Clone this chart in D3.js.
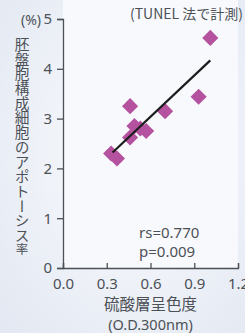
<!DOCTYPE html>
<html>
<head>
<meta charset="utf-8">
<script src="https://cdn.jsdelivr.net/npm/d3@7"></script>
<style>
  html, body { margin: 0; padding: 0; background: #f1f4f9; }
  svg { display: block; font-family: 'Noto Sans CJK JP', 'Noto Sans', sans-serif; }
</style>
</head>
<body>
<div id="chart"></div>
<script>
// data
const odValues = [0.33, 0.37, 0.46, 0.49, 0.53, 0.57, 0.46, 0.70, 0.93, 1.01];
const apoptosisRates = [2.30, 2.20, 2.62, 2.85, 2.80, 2.75, 3.25, 3.15, 3.44, 4.62];
const fitX = [0.34, 1.01];
const fitY = [2.32, 4.17];
const xTicks = [0, 0.3, 0.6, 0.9, 1.2];
const yTicks = [0, 1, 2, 3, 4, 5];
const yTitle = '胚盤胞構成細胞のアポトーシス';
const yTitleLast = '率';
const xTitle = '硫酸層呈色度';
const xUnit = '(O.D.300nm)';
const methodNote = '(TUNEL 法で計測)';
const stats = ['rs=0.770', 'p=0.009'];

const width = 245, height = 333;
const margin = { top: 19, right: 7, bottom: 65, left: 63 };
const textColor = '#4c5157';

const svg = d3.select('#chart').append('svg')
  .attr('width', width)
  .attr('height', height);

const defs = svg.append('defs');
const bg = defs.append('radialGradient').attr('id', 'bg')
  .attr('cx', '55%').attr('cy', '45%').attr('r', '75%');
bg.append('stop').attr('offset', '0%').attr('stop-color', '#fbfcfe');
bg.append('stop').attr('offset', '100%').attr('stop-color', '#e3e8f2');

svg.append('rect')
  .attr('width', width).attr('height', height)
  .attr('fill', 'url(#bg)');

const x = d3.scaleLinear().domain([0, 1.2]).range([margin.left, width - margin.right]);
const y = d3.scaleLinear().domain([0, 5]).range([height - margin.bottom, margin.top]);

// pale plot panel
svg.append('rect')
  .attr('x', x(0)).attr('y', 0)
  .attr('width', x(1.2) - x(0)).attr('height', y(0))
  .attr('fill', '#f8f9fc');

const xAxis = svg.append('g')
  .attr('transform', `translate(0,${y(0)})`)
  .call(d3.axisBottom(x).tickValues(xTicks).tickFormat(d3.format('.1f'))
    .tickSizeInner(-5).tickSizeOuter(-5).tickPadding(12));

const yAxis = svg.append('g')
  .attr('transform', `translate(${x(0)},0)`)
  .call(d3.axisLeft(y).tickValues(yTicks).tickFormat(d3.format('d'))
    .tickSizeInner(6).tickSizeOuter(6).tickPadding(5));

[xAxis, yAxis].forEach(g => {
  g.selectAll('path, line').attr('stroke', textColor).attr('stroke-width', 1.3);
  g.selectAll('text')
    .attr('fill', textColor)
    .attr('font-size', 15)
    .attr('font-family', "'Noto Sans', sans-serif");
});
xAxis.selectAll('text').attr('dy', '0.6em');

const line = d3.line().x(d => x(d[0])).y(d => y(d[1]));
const fitPts = fitX.map((v, i) => [v, fitY[i]]);

// points as diamonds
const pts = odValues.map((v, i) => ({ od: v, rate: apoptosisRates[i] }));
svg.append('g').selectAll('path')
  .data(pts)
  .join('path')
  .attr('transform', d => `translate(${x(d.od)},${y(d.rate)}) rotate(45)`)
  .attr('d', d3.symbol().type(d3.symbolSquare).size(130))
  .attr('fill', '#b4529f');

// regression line on top of the points
svg.append('path')
  .attr('d', line(fitPts))
  .attr('fill', 'none')
  .attr('stroke', '#1c1c1c')
  .attr('stroke-width', 2.2);

// stats text
svg.append('g').selectAll('text')
  .data(stats)
  .join('text')
  .attr('x', 139)
  .attr('y', (d, i) => 238 + i * 19)
  .attr('font-size', 15)
  .attr('font-family', "'Noto Sans', sans-serif")
  .attr('fill', textColor)
  .text(d => d);

// top labels
svg.append('text')
  .attr('x', 243).attr('y', 19)
  .attr('text-anchor', 'end')
  .attr('font-size', 14)
  .attr('fill', textColor)
  .text(methodNote);

svg.append('text')
  .attr('x', 41).attr('y', 25)
  .attr('text-anchor', 'end')
  .attr('font-size', 14)
  .attr('font-family', "'Noto Sans', sans-serif")
  .attr('fill', textColor)
  .text('(%)');

// vertical y title
const yt = svg.append('text')
  .attr('x', 22).attr('y', 37)
  .style('writing-mode', 'vertical-rl')
  .attr('font-size', 14.7)
  .attr('fill', textColor);
yt.append('tspan').text(yTitle);
yt.append('tspan').attr('font-size', 12.5).text(yTitleLast);

// x title
svg.append('text')
  .attr('x', x(0.6)).attr('y', 310)
  .attr('text-anchor', 'middle')
  .attr('font-size', 15.5)
  .attr('fill', textColor)
  .text(xTitle);

svg.append('text')
  .attr('x', x(0.6)).attr('y', 330)
  .attr('text-anchor', 'middle')
  .attr('font-size', 14.5)
  .attr('font-family', "'Noto Sans', sans-serif")
  .attr('fill', textColor)
  .text(xUnit);
</script>
</body>
</html>
